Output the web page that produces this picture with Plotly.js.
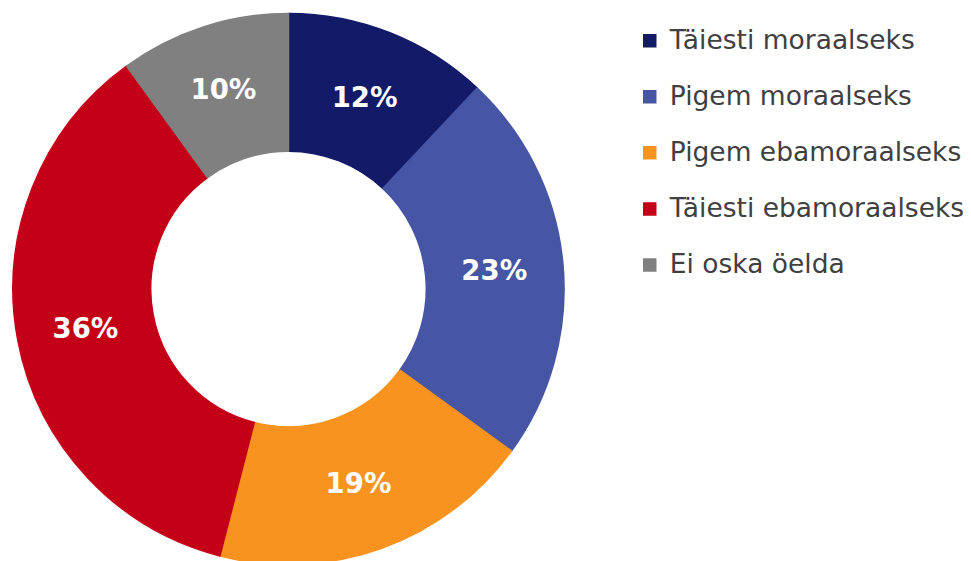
<!DOCTYPE html>
<html>
<head>
<meta charset="utf-8">
<script src="https://cdn.plot.ly/plotly-3.0.1.min.js"></script>
<style>
html, body { margin: 0; padding: 0; overflow: hidden; background: #fff; }
#chart { width: 971px; height: 578px; }
</style>
</head>
<body>
<div id="chart"></div>
<script>
const categories = ["Täiesti moraalseks", "Pigem moraalseks", "Pigem ebamoraalseks", "Täiesti ebamoraalseks", "Ei oska öelda"];
const values = [12, 23, 19, 36, 10];
const colors = ["#131A68", "#4755A5", "#F7931E", "#C40018", "#808080"];

const legendLabels = categories.map(c => '<span style="font-size:26.5px">' + c + '</span><br> ');

const trace = {
  type: 'pie',
  labels: legendLabels,
  values: values,
  sort: false,
  direction: 'clockwise',
  rotation: 0,
  hole: 0.5,
  marker: { colors: colors, line: { color: colors, width: 1.5 } },
  texttemplate: '%{percent:.0%}',
  textposition: 'inside',
  insidetextorientation: 'horizontal',
  textfont: { family: 'DejaVu Sans', size: 27.5, color: '#ffffff', weight: 'bold' },
  hoverinfo: 'skip',
  domain: { x: [13/971, 567/971], y: [0, 1] }
};

const layout = {
  width: 971,
  height: 578,
  margin: { l: 0, r: 0, t: 0, b: 0 },
  paper_bgcolor: '#ffffff',
  showlegend: true,
  legend: {
    x: 633/971, xanchor: 'left',
    y: 1 - 21/578, yanchor: 'top',
    valign: 'top',
    font: { family: 'DejaVu Sans', size: 20.4, color: '#404040' },
    bgcolor: 'rgba(0,0,0,0)'
  },
  font: { family: 'DejaVu Sans' }
};

Plotly.newPlot('chart', [trace], layout, { displayModeBar: false, staticPlot: true });
</script>
</body>
</html>
